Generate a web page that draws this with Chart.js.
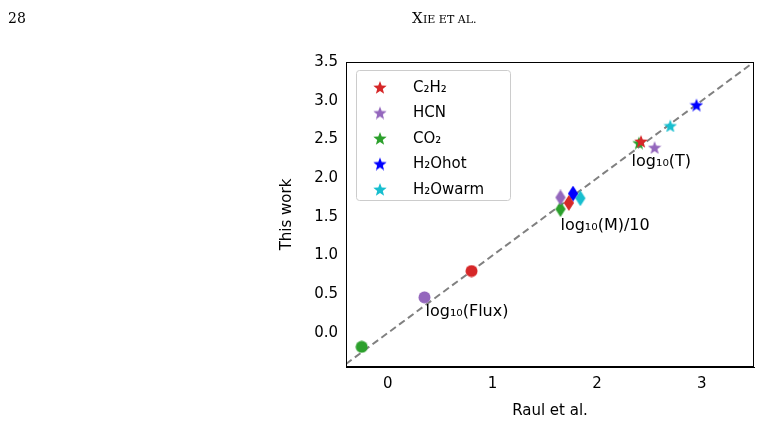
<!DOCTYPE html>
<html><head><meta charset="utf-8">
<script src="https://cdn.jsdelivr.net/npm/chart.js@4"></script>
<style>body{margin:0;background:#fff}#wrap{width:761px;height:424px}</style>
</head><body><div id="wrap"><canvas id="c"></canvas></div>
<script>
const species=['C₂H₂','HCN','CO₂','H₂Ohot','H₂Owarm']
const colors=['#d62728','#9467bd','#2ca02c','#0000ff','#17becf']
// [raul, thisWork] for log10(Flux), log10(M)/10, log10(T)
const fluxPts=[[0.80,0.80],[0.35,0.46],[-0.25,-0.18],null,null]
const massPts=[[1.73,1.68],[1.65,1.75],[1.65,1.60],[1.77,1.80],[1.84,1.74]]
const tempPts=[[2.42,2.48],[2.55,2.40],[2.40,2.46],[2.95,2.95],[2.70,2.68]]
const oneToOne=[-0.4,3.5]
const groupLabels=[{text:'log₁₀(Flux)',x:0.36,y:0.38},{text:'log₁₀(M)/10',x:1.65,y:1.49},{text:'log₁₀(T)',x:2.33,y:2.32}]

const mk=(color,shape,s)=>{
  const c=document.createElement('canvas');c.width=c.height=s
  const g=c.getContext('2d');g.fillStyle=color;g.beginPath()
  const m=s/2
  if(shape==='circle'){g.arc(m,m,m-0.5,0,Math.PI*2)}
  else if(shape==='diamond'){g.moveTo(m,0);g.lineTo(s*0.82,m);g.lineTo(m,s);g.lineTo(s*0.18,m)}
  else{for(let i=0;i<10;i++){const r=i%2?m*0.42:m;const a=-Math.PI/2+i*Math.PI/5;g.lineTo(m+r*Math.cos(a),m+1+r*Math.sin(a))}}
  g.closePath();g.fill();return c
}

const datasets=[]
species.forEach((s,i)=>{
  const pts=[],styles=[]
  ;[[fluxPts,'circle',13],[massPts,'diamond',16],[tempPts,'star',14]].forEach(([arr,sh,sz])=>{
    if(arr[i]){pts.push({x:arr[i][0],y:arr[i][1]});styles.push(mk(colors[i],sh,sz))}
  })
  datasets.push({type:'scatter',label:s,data:pts,pointStyle:styles,backgroundColor:colors[i]})
})
datasets.push({type:'line',data:oneToOne.map(v=>({x:v,y:v})),borderColor:'#808080',borderWidth:2,borderDash:[7,4],pointRadius:0})

const extra={id:'extra',afterDraw(ch){
  const g=ch.ctx,xs=ch.scales.x,ys=ch.scales.y,a=ch.chartArea
  g.save();g.strokeStyle='#000';g.lineWidth=1;g.strokeRect(a.left+0.5,a.top+0.5,a.right-a.left-1,a.bottom-a.top-1)
  g.fillStyle='#000';g.textBaseline='top';g.font='16px "DejaVu Sans"'
  groupLabels.forEach(l=>g.fillText(l.text,xs.getPixelForValue(l.x),ys.getPixelForValue(l.y)))
  g.font='14px "DejaVu Serif"';g.fillText('28',8,12)
  g.font='15px "DejaVu Serif"';g.fillText('X',412,12);g.font='11px "DejaVu Serif"';g.fillText('IE ET AL.',423,15)
  // legend
  g.strokeStyle='#cccccc';g.fillStyle='rgba(255,255,255,0.8)'
  g.beginPath();g.roundRect(356.5,70.5,154,130,3);g.fill();g.stroke()
  g.font='15px "DejaVu Sans"';g.textBaseline='middle'
  species.forEach((s,i)=>{const y=88+i*25.5
    g.drawImage(mk(colors[i],'star',14),373,y-8);g.fillStyle='#000';g.fillText(s,413,y)})
  g.restore()
}}

new Chart(document.getElementById('c'),{data:{datasets},plugins:[extra],options:{
  responsive:true,maintainAspectRatio:false,animation:false,
  layout:{padding:{left:274,right:7,top:62,bottom:0}},
  plugins:{legend:{display:false},tooltip:{enabled:false}},
  scales:{
    x:{type:'linear',min:-0.4,max:3.5,afterFit:s=>{s.height=57},afterBuildTicks:s=>{s.ticks=[0,1,2,3].map(v=>({value:v}))},
      grid:{display:false,drawTicks:true,tickLength:5,tickColor:'#000'},border:{color:'#000'},
      ticks:{color:'#000',font:{family:'DejaVu Sans',size:15}},
      title:{display:true,text:'Raul et al.',color:'#000',font:{family:'DejaVu Sans',size:15}}},
    y:{min:-0.44,max:3.5,afterFit:s=>{s.width=72},afterBuildTicks:s=>{s.ticks=[0,0.5,1,1.5,2,2.5,3,3.5].map(v=>({value:v}))},
      grid:{display:false,tickLength:5,tickColor:'#000'},border:{color:'#000'},
      ticks:{color:'#000',font:{family:'DejaVu Sans',size:15},callback:v=>v.toFixed(1)},
      title:{display:true,text:'This work',color:'#000',font:{family:'DejaVu Sans',size:15}}}
  }}})
</script></body></html>
